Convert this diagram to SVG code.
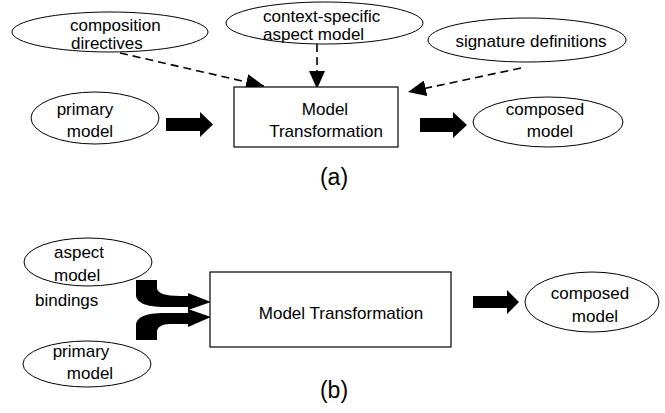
<svg xmlns="http://www.w3.org/2000/svg" width="665" height="413" viewBox="0 0 665 413">
<style>
text{font-family:"Liberation Sans",Arial,sans-serif;font-size:17px;fill:#000}
.c{text-anchor:middle}
.e{fill:#fff;stroke:#000;stroke-width:1}
.b{fill:#fff;stroke:#000;stroke-width:1.2}
.d{fill:none;stroke:#000;stroke-width:1.6;stroke-dasharray:8 5}
.k{fill:#000;stroke:none}
.lab{font-size:23px}
</style>
<defs>
<marker id="ah" markerUnits="userSpaceOnUse" viewBox="0 0 18 16" refX="18" refY="8" markerWidth="18" markerHeight="16" orient="auto">
<path d="M0,0 L18,8 L0,16 z" fill="#000"/>
</marker>
</defs>
<rect width="665" height="413" fill="#fff"/>

<g id="connectors">
<line class="d" x1="120" y1="53" x2="264" y2="86" marker-end="url(#ah)"/>
<line class="d" x1="317" y1="44" x2="317" y2="89" marker-end="url(#ah)"/>
<line class="d" x1="521" y1="68" x2="408" y2="92" marker-end="url(#ah)"/>
<path class="k" d="M166,118 L200,118 L200,112 L213,124.5 L200,137 L200,131 L166,131 z"/>
<path class="k" d="M420,118 L453,118 L453,112 L467,125 L453,138 L453,132 L420,132 z"/>
<path class="k" d="M473,296 L507,296 L507,290 L519,302 L507,314 L507,308 L473,308 z"/>
<path class="k" d="M136,280 L157,280 L157,288 C157,293 165,296 180,296 L188,296 L188,293 L211,302 L188,310 L188,307 L165,307 C145,307 136,302 136,295 z"/>
<path class="k" d="M136,340 L136,326 C136,317 145,313 165,313 L188,313 L188,309 L211,317 L188,327 L188,324 L170,324 C162,324 157,327 157,332 L157,340 z"/>
</g>

<g id="composition-directives">
<ellipse class="e" cx="110" cy="32" rx="98" ry="20"/>
<text x="70" y="31">composition</text>
<text x="71" y="49">directives</text>
</g>

<g id="context-specific-aspect-model">
<ellipse class="e" cx="324.5" cy="23" rx="98.5" ry="21"/>
<text x="263" y="22">context-specific</text>
<text x="263" y="40">aspect model</text>
</g>

<g id="signature-definitions">
<ellipse class="e" cx="527" cy="40" rx="99" ry="22"/>
<text class="c" x="531" y="47">signature definitions</text>
</g>

<g id="primary-model-a">
<ellipse class="e" cx="95" cy="118" rx="64" ry="26"/>
<text class="c" x="85" y="115">primary</text>
<text class="c" x="90" y="137">model</text>
</g>

<g id="model-transformation-a">
<rect class="b" x="234" y="87" width="164" height="60"/>
<text class="c" x="325" y="115">Model</text>
<text class="c" x="326" y="137">Transformation</text>
</g>

<g id="composed-model-a">
<ellipse class="e" cx="548" cy="122" rx="75" ry="25"/>
<text class="c" x="545" y="115">composed</text>
<text class="c" x="550" y="137">model</text>
</g>

<g id="label-a">
<text class="c lab" x="334" y="185">(a)</text>
</g>

<g id="aspect-model-b">
<ellipse class="e" cx="88" cy="262" rx="64" ry="24"/>
<text x="54" y="258">aspect</text>
<text x="54" y="281">model</text>
</g>

<g id="bindings">
<text x="35" y="306">bindings</text>
</g>

<g id="primary-model-b">
<ellipse class="e" cx="87" cy="364" rx="64" ry="23"/>
<text class="c" x="81" y="357">primary</text>
<text class="c" x="90" y="379">model</text>
</g>

<g id="model-transformation-b">
<rect class="b" x="210" y="272" width="241" height="75"/>
<text class="c" x="341" y="319">Model Transformation</text>
</g>

<g id="composed-model-b">
<ellipse class="e" cx="592" cy="302" rx="67" ry="30"/>
<text class="c" x="590" y="299">composed</text>
<text class="c" x="595" y="322">model</text>
</g>

<g id="label-b">
<text class="c lab" x="334" y="398">(b)</text>
</g>
</svg>
